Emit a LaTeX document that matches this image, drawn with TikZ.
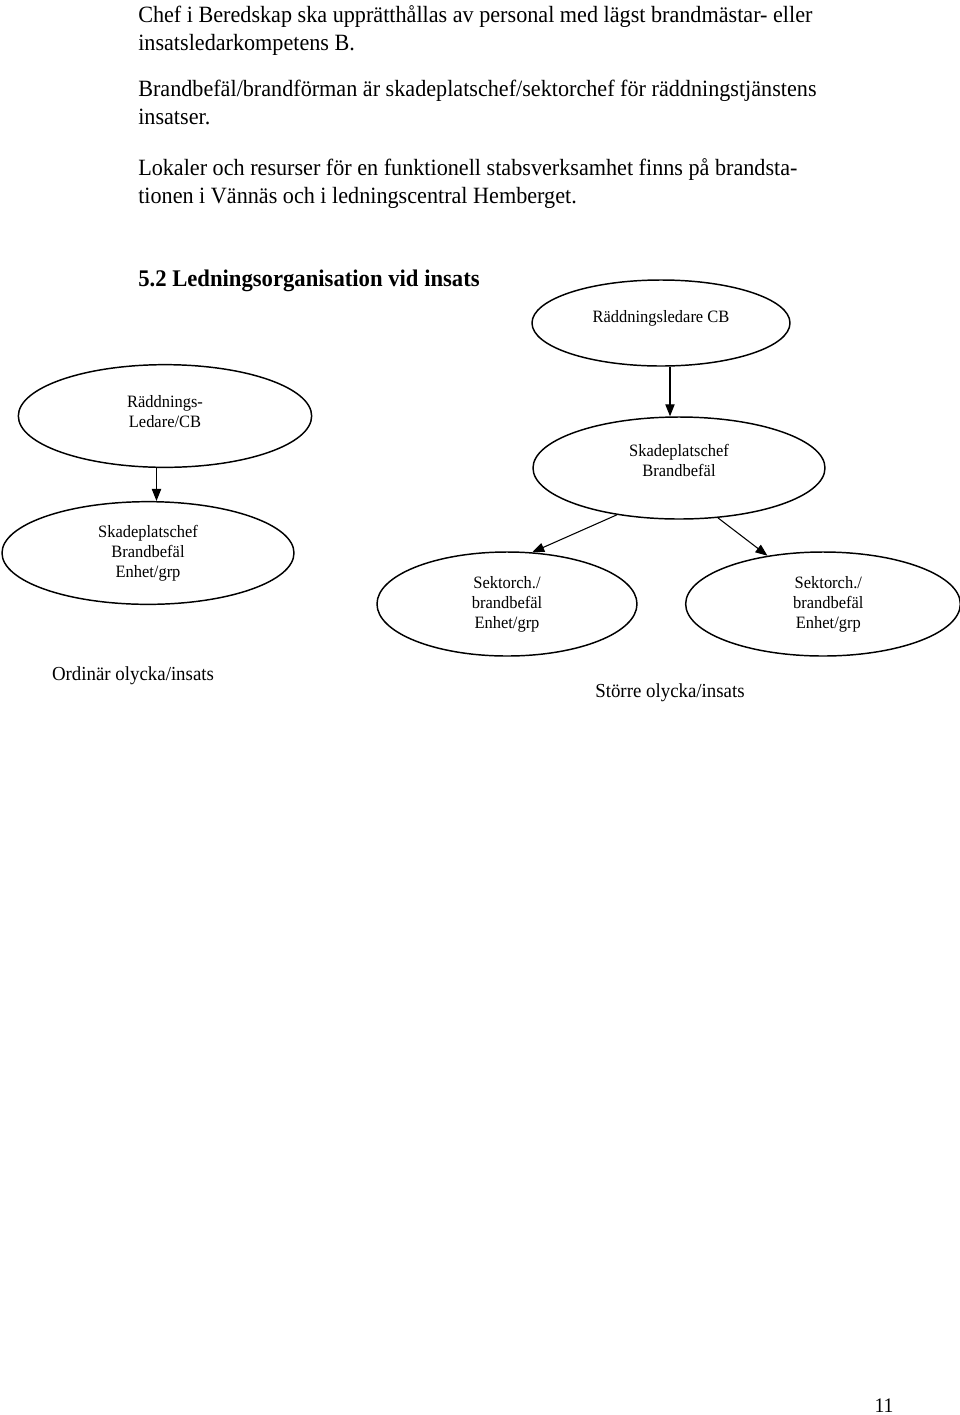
\documentclass[tikz,border=0pt]{standalone}
\usepackage{fontspec}
\setmainfont{Liberation Serif}[FakeStretch=0.95]
\usetikzlibrary{shapes.geometric,arrows.meta,positioning,calc}

\tikzset{
	bodytext/.style={anchor=north west, inner sep=0pt, align=left, font=\fontsize{17.5}{21}\selectfont},
	org/.style={draw, ellipse, line width=1.1pt, inner sep=0pt, align=center, font=\fontsize{13}{15}\selectfont},
	orgarrow/.style={line width=0.8pt, -{Triangle[length=9pt,width=7pt]}},
	caption/.style={inner sep=0pt, font=\fontsize{14.9}{17}\selectfont}
}

\begin{document}
\begin{tikzpicture}[x=0.75pt,y=-0.75pt]
		\useasboundingbox (0,0) rectangle (960,1415);
		% text above the chart
		\node[bodytext] (para1) at (138,5) {Chef i Beredskap ska upprätthållas av personal med lägst brandmästar- eller\\insatsledarkompetens B.};
		\node[bodytext] (para2) at (138,80) {Brandbefäl/brandförman är skadeplatschef/sektorchef för räddningstjänstens\\insatser.};
		\node[bodytext] (para3) at (138,158) {Lokaler och resurser för en funktionell stabsverksamhet finns på brandsta-\\tionen i Vännäs och i ledningscentral Hemberget.};
		\node[bodytext, font=\fontsize{17.9}{21}\selectfont\bfseries] (head) at (138,270) {5.2 Ledningsorganisation vid insats};
		% ellipses
		\node[org, minimum width=193.5pt, minimum height=64.5pt, text depth=10.5pt] (rl) at (661,323) {Räddningsledare CB};
		\node[org, minimum width=219pt, minimum height=76.5pt, text depth=10.7pt] (spc) at (679,468) {Skadeplatschef\\Brandbefäl};
		\node[org, minimum width=220pt, minimum height=77pt, text depth=6.5pt] (rlcb) at (165,416) {Räddnings-\\Ledare/CB};
		\node[org, minimum width=219pt, minimum height=77pt] (spl) at (148,553) {Skadeplatschef\\Brandbefäl\\Enhet/grp};
		\node[org, minimum width=195pt, minimum height=78pt] (sek1) at (507,604) {Sektorch./\\brandbefäl\\Enhet/grp};
		\node[org, minimum width=206pt, minimum height=78pt] (sek2) at (823,604) {\hspace*{8pt}Sektorch./\\\hspace*{8pt}brandbefäl\\\hspace*{8pt}Enhet/grp};
		% arrows
		\coordinate (lmid) at ($(rlcb.south)!.5!(spl.north)$);
		\coordinate (rmid) at ($(rl.south)!.5!(spc.north)$);
		\draw[orgarrow] (lmid |- rlcb.south) -- (lmid |- spl.north);
		\draw[orgarrow] (rmid |- rl.south) -- (rmid |- spc.north);
		\draw[orgarrow] (spc.217) -- (sek1.64);
		\draw[orgarrow] (spc.308) -- (sek2.139);
		% captions
		\node[caption] (ordinar) at (133,676) {Ordinär olycka/insats};
		\node[caption] (storre) at (670,693) {Större olycka/insats};
		\node[caption, font=\fontsize{15.5}{17}\selectfont] (page) at (884,1406) {11};
	\end{tikzpicture}
\end{document}
